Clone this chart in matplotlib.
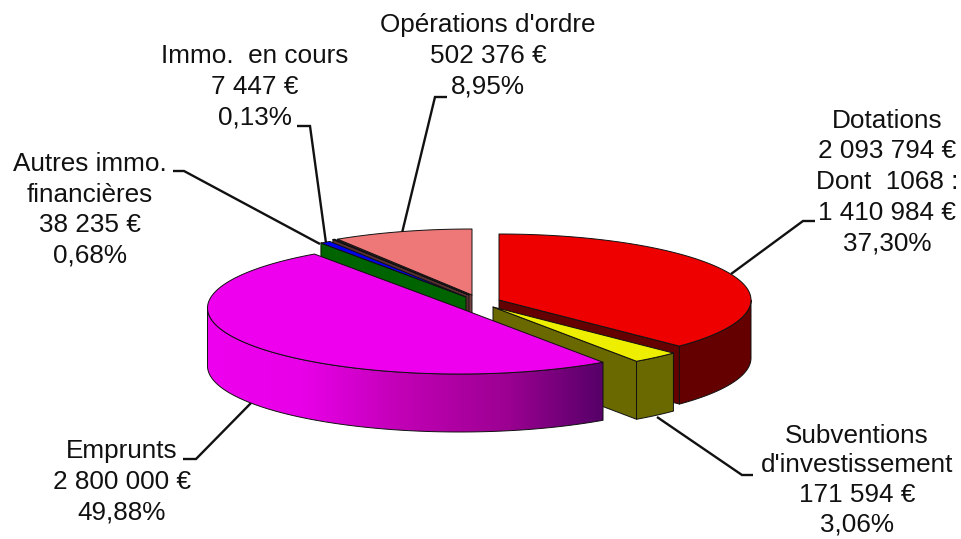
import numpy as np
import matplotlib
matplotlib.use("Agg")
import matplotlib.pyplot as plt
from matplotlib.patches import Polygon
from matplotlib.colors import LinearSegmentedColormap

plt.rcParams['font.family'] = ['Liberation Sans', 'DejaVu Sans']

# data (clockwise from 12 o'clock)
names = ["Dotations", "Subventions", "Emprunts", "Autres", "Immo", "Operations"]
values = [2093794, 171594, 2800000, 38235, 7447, 502376]
labels = ["Dotations\n2 093 794 €\nDont  1068 :\n1 410 984 €\n37,30%",
          "Subventions\nd'investissement\n171 594 €\n3,06%",
          "Emprunts\n2 800 000 €\n49,88%",
          "Autres immo.\nfinancières\n38 235 €\n0,68%",
          "Immo.  en cours\n7 447 €\n0,13%",
          "Opérations d'ordre\n502 376 €\n8,95%"]

# styling
top_cols = {"Dotations": "#ee0000", "Subventions": "#eeee00", "Emprunts": "#ee00ee",
            "Autres": "#0000ee", "Immo": "#0000ee", "Operations": "#ee7878"}
side_cols = {"Dotations": "#640000", "Subventions": "#696900", "Emprunts": "#ee00ee",
             "Autres": "#006400", "Immo": "#5a3030", "Operations": "#784040"}
apex = {"Dotations": (499, 300), "Subventions": (493, 307), "Emprunts": (459.5, 308),
        "Autres": (466, 297), "Immo": (469, 295), "Operations": (472, 295)}
label_pos = {"Dotations": (887, 182), "Subventions": (857, 480), "Emprunts": (122, 482),
             "Autres": (90, 210), "Immo": (255, 87), "Operations": (488, 56)}
label_spacing = {"Dotations": 1.35, "Subventions": 1.29, "Emprunts": 1.35,
                 "Autres": 1.35, "Immo": 1.35, "Operations": 1.35}
leaders = {"Dotations": [(815, 221), (803, 221), (731, 274)],
           "Subventions": [(753, 475), (742, 475), (657, 417)],
           "Emprunts": [(183, 459), (196, 459), (251, 403)],
           "Autres": [(173, 171), (184, 171), (320, 244)],
           "Immo": [(297, 126), (310, 126), (326, 243)],
           "Operations": [(447, 97), (435, 97), (402, 233)]}
draw_order = ["Operations", "Immo", "Autres", "Dotations", "Subventions", "Emprunts"]
RX, RY, DEPTH = 252.0, 66.0, 58.0
EDGE = dict(edgecolor="#111111", linewidth=0.7, joinstyle="round")

fig = plt.figure(figsize=(9.62, 5.39), dpi=100, facecolor="white")
ax = fig.add_axes([0, 0, 1, 1])
ax.set_xlim(0, 962)
ax.set_ylim(539, 0)
ax.axis("off")

vals = np.array(values, float)
cum = np.concatenate([[0], np.cumsum(vals)]) / vals.sum() * 2 * np.pi
spans = {n: (cum[i], cum[i + 1]) for i, n in enumerate(names)}


def rim(name, a):
    cx, cy = apex[name]
    a = np.asarray(a, float)
    return np.column_stack([cx + RX * np.sin(a), cy - RY * np.cos(a)])


def poly(pts, fc, z):
    p = Polygon(pts, closed=True, facecolor=fc, zorder=z, **EDGE)
    ax.add_patch(p)
    return p


grad = LinearSegmentedColormap.from_list(
    "g", [(0, "#ee00ee"), (0.24, "#e800e8"), (0.5, "#c000b4"), (0.76, "#9c0092"), (1, "#560068")])

z = 2
for n in draw_order:
    a0, a1 = spans[n]
    c = np.array(apex[n], float)
    down = np.array([0, DEPTH])
    r0, r1 = rim(n, [a0])[0], rim(n, [a1])[0]
    # cut faces, when turned toward the viewer
    if n in ("Dotations", "Subventions"):
        poly([c, r1, r1 + down, c + down], side_cols[n], z); z += 1
    elif n in ("Autres", "Operations", "Immo"):
        poly([c, r0, r0 + down, c + down], side_cols[n], z); z += 1
    # outer wall: only the front half (90..270 degrees)
    lo, hi = max(a0, np.pi / 2), min(a1, 3 * np.pi / 2)
    if hi > lo:
        t = np.linspace(lo, hi, 120)
        top = rim(n, t)
        wall = np.vstack([top, (top + down)[::-1]])
        if n == "Emprunts":
            poly(wall, "none", z + 1)
            bg = Polygon(wall, closed=True, facecolor="none", edgecolor="none")
            ax.add_patch(bg)
            xa, xb = wall[:, 0].min(), wall[:, 0].max()
            ya, yb = wall[:, 1].min(), wall[:, 1].max()
            im = ax.imshow(np.linspace(0, 1, 256)[None, :], cmap=grad, aspect="auto",
                           extent=[xa, xb, yb, ya], zorder=z, interpolation="bilinear")
            im.set_clip_path(bg)
            z += 2
        else:
            poly(wall, side_cols[n], z); z += 1
    # top surface
    t = np.linspace(a0, a1, 120)
    poly(np.vstack([c, rim(n, t)]), top_cols[n], z); z += 1

ax.set_xlim(0, 962)
ax.set_ylim(539, 0)

for n, lab in zip(names, labels):
    xs, ys = zip(*leaders[n])
    ax.plot(xs, ys, color="#111111", lw=1.7, zorder=1, solid_capstyle="butt", solid_joinstyle="miter")
    ax.text(*label_pos[n], lab, ha="center", va="center", fontsize=18.8, color="#111111",
            linespacing=label_spacing[n], zorder=40)

fig.savefig("out.png", dpi=100, facecolor="white")
